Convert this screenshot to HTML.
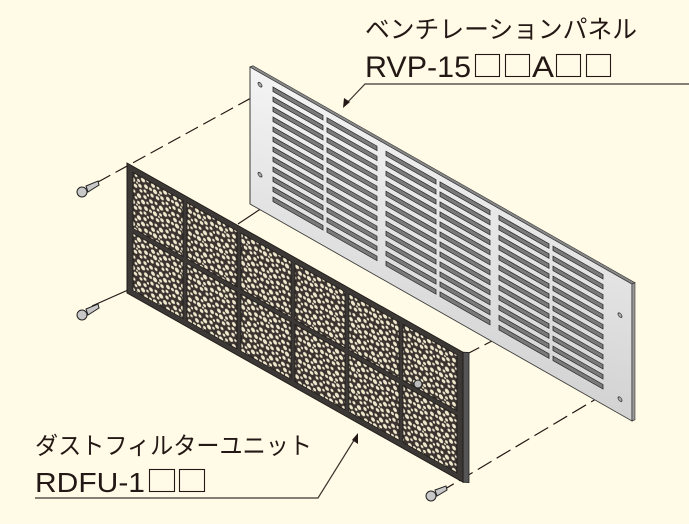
<!DOCTYPE html>
<html><head><meta charset="utf-8"><style>
html,body{margin:0;padding:0;background:#fffbe6;}
svg{display:block;}
text{font-family:"Liberation Sans","Noto Sans CJK JP",sans-serif;fill:#231815;}
</style></head><body>
<svg width="689" height="524" viewBox="0 0 689 524" xmlns="http://www.w3.org/2000/svg">
<defs>
<pattern id="foam" width="22" height="22" patternUnits="userSpaceOnUse">
<rect width="22" height="22" fill="#3a3330"/>
<g fill="#f0e8cc">
<circle cx="2" cy="3" r="1.9"/><circle cx="7" cy="2" r="1.5"/><circle cx="12" cy="4" r="2.2"/><circle cx="18" cy="2" r="1.7"/>
<circle cx="4" cy="8" r="2"/><circle cx="9" cy="7.5" r="1.4"/><circle cx="16" cy="8" r="2.1"/><circle cx="20.5" cy="6.5" r="1.3"/>
<circle cx="1.5" cy="13" r="1.5"/><circle cx="6" cy="13" r="2.2"/><circle cx="11.5" cy="11" r="1.5"/><circle cx="13" cy="15.5" r="1.8"/><circle cx="19" cy="13" r="2"/>
<circle cx="3" cy="18.5" r="1.7"/><circle cx="8.5" cy="18" r="1.8"/><circle cx="14" cy="20" r="1.5"/><circle cx="18" cy="18" r="1.5"/><circle cx="21" cy="20.5" r="1.2"/><circle cx="10" cy="14" r="1"/>
</g>
</pattern>
<linearGradient id="pg" x1="0" y1="0" x2="1" y2="1">
<stop offset="0" stop-color="#f4f4f4"/><stop offset="1" stop-color="#d2d2d2"/>
</linearGradient>
<g id="col">
<rect x="0" y="7" width="50" height="4.5"/><rect x="0" y="17" width="50" height="4.5"/><rect x="0" y="27" width="50" height="4.5"/><rect x="0" y="37" width="50" height="4.5"/><rect x="0" y="47" width="50" height="4.5"/><rect x="0" y="57" width="50" height="4.5"/><rect x="0" y="67" width="50" height="4.5"/><rect x="0" y="77" width="50" height="4.5"/><rect x="0" y="87" width="50" height="4.5"/><rect x="0" y="97" width="50" height="4.5"/><rect x="0" y="107" width="50" height="4.5"/><rect x="0" y="117" width="50" height="4.5"/>
</g>
</defs>

<g stroke="#231815" stroke-width="1.2" fill="none">
<line x1="98" y1="182" x2="262" y2="92" stroke-dasharray="14,6"/>
<line x1="92" y1="306" x2="128" y2="290"/>
<line x1="238" y1="224" x2="262" y2="208"/>
<line x1="465" y1="355" x2="600" y2="285" stroke-dasharray="16,6"/>
<line x1="440" y1="492" x2="606" y2="393" stroke-dasharray="16,6"/>
</g>

<g transform="matrix(1,0.568,0,1,250,67)">
<rect x="0" y="0" width="382" height="137" fill="url(#pg)" stroke="#3a3a3a" stroke-width="1"/>
<path d="M0 0 L3 -3 L385 -3 L382 0 Z" fill="#888" stroke="#333" stroke-width="0.6"/>
<path d="M382 0 L385 -3 L385 134 L382 137 Z" fill="#999" stroke="#333" stroke-width="0.6"/>
<g fill="#7a7a7a" stroke="#2b2b2b" stroke-width="0.8">
<use href="#col" x="23"/><use href="#col" x="77"/><use href="#col" x="136"/><use href="#col" x="190"/><use href="#col" x="249"/><use href="#col" x="303"/>
</g>
<g fill="#aaa" stroke="#333" stroke-width="0.8">
<circle cx="10" cy="12" r="2"/><circle cx="10" cy="102" r="2"/><circle cx="370" cy="38" r="2"/><circle cx="370" cy="122" r="2"/>
</g>
</g>

<g transform="matrix(1,0.563,0,1,127,163)">
<path d="M336 0 L342 -3 L342 127 L336 130 Z" fill="#555" stroke="#222" stroke-width="0.8"/>
<rect x="0" y="0" width="336" height="130" fill="#3c3836" stroke="#1e1a18" stroke-width="1"/>
<g fill="url(#foam)" stroke="#1e1a18" stroke-width="0.8">
<rect x="6" y="6" width="50" height="56"/><rect x="60" y="6" width="50" height="56"/><rect x="114" y="6" width="50" height="56"/><rect x="168" y="6" width="50" height="56"/><rect x="222" y="6" width="50" height="56"/><rect x="276" y="6" width="54" height="56"/>
<rect x="6" y="67" width="50" height="57"/><rect x="60" y="67" width="50" height="57"/><rect x="114" y="67" width="50" height="57"/><rect x="168" y="67" width="50" height="57"/><rect x="222" y="67" width="50" height="57"/><rect x="276" y="67" width="54" height="57"/>
</g>
</g>
<circle cx="418" cy="384" r="4" fill="#bbb" stroke="#222"/>

<g stroke="#222" stroke-width="1" fill="#c8c8c8">
<path d="M86 186 L98 181 L99 185 L88 192 Z"/><circle cx="82" cy="192" r="5"/>
<path d="M86 309 L98 304 L99 308 L88 315 Z"/><circle cx="82" cy="315" r="5"/>
<path d="M435 490 L446 486 L447 490 L437 496 Z"/><circle cx="431" cy="496" r="5"/>
</g>

<g stroke="#3a3530" stroke-width="1.2" fill="none">
<polyline points="689,84 365,84 345,105"/>
<polyline points="35,498 318,498 356,437"/>
</g>
<path d="M343 108 L344 98 L350 102 Z" fill="#231815"/>
<path d="M358 433 L358 444 L352 440 Z" fill="#231815"/>

<text x="365" y="38" font-size="25" textLength="272" lengthAdjust="spacingAndGlyphs">ベンチレーションパネル</text>
<text x="365" y="77" font-size="30" textLength="106" lengthAdjust="spacingAndGlyphs">RVP-15</text>
<text x="532" y="77" font-size="30" textLength="22" lengthAdjust="spacingAndGlyphs">A</text>
<g fill="none" stroke="#231815" stroke-width="1.1">
<rect x="475.5" y="54.5" width="24" height="22"/><rect x="505.5" y="54.5" width="24" height="22"/>
<rect x="556.5" y="54.5" width="24" height="22"/><rect x="586.5" y="54.5" width="24" height="22"/>
<rect x="149.5" y="469.5" width="25" height="22"/><rect x="179.5" y="469.5" width="25" height="22"/>
</g>
<text x="35" y="454" font-size="24" textLength="277" lengthAdjust="spacingAndGlyphs">ダストフィルターユニット</text>
<text x="35" y="492" font-size="28" textLength="110" lengthAdjust="spacingAndGlyphs">RDFU-1</text>
</svg>
</body></html>
